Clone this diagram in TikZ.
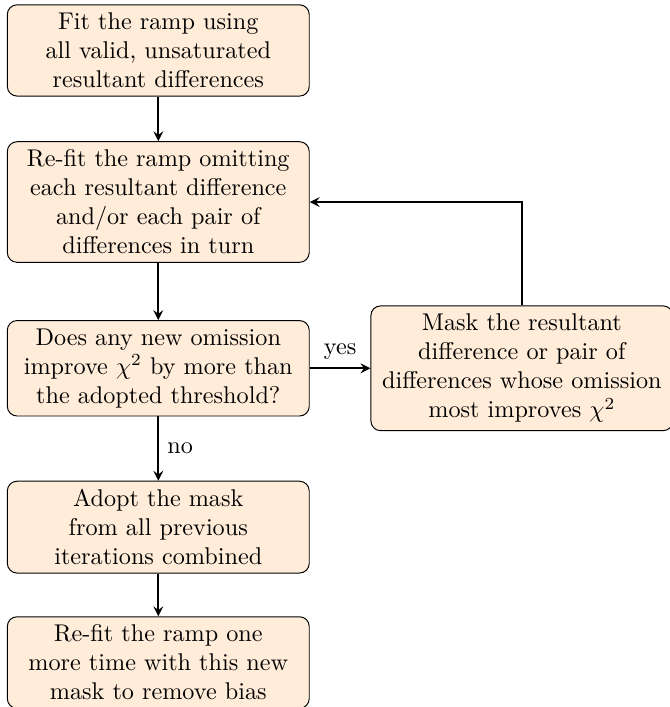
\documentclass[tikz,border=0pt]{standalone}
\usepackage{xcolor}

\begin{document}
\begin{tikzpicture}[x=0.75pt,y=0.75pt,yscale=-1,xscale=1,
  flowbox/.style={draw, rounded corners=4pt, fill={rgb, 255:red, 255; green, 236; blue, 217 }, fill opacity=1, text width=4.15cm, align=center, inner sep=3.33pt},
  flowarrow/.style={-stealth, thick}]
%set diagram left start at 0, and has height of 389.5
\useasboundingbox (0,0) rectangle (368.6,389.5);

%Shape: Rounded Rect [id:fit]
\draw (87.2,27.8) node [flowbox] (fit) {Fit the ramp using\\ all valid, unsaturated\\ resultant differences};
%Shape: Rounded Rect [id:refit]
\draw (87.2,111.3) node [flowbox] (refit) {Re-fit the ramp omitting\\ each resultant difference\\ and/or each pair of\\ differences in turn};
%Shape: Rounded Rect [id:test]
\draw (87.2,202.9) node [flowbox] (test) {Does any new omission\\ improve $\chi^2$ by more than\\ the adopted threshold?};
%Shape: Rounded Rect [id:mask]
\draw (287.5,202.9) node [flowbox] (mask) {Mask the resultant\\ difference or pair of\\ differences whose omission\\ most improves $\chi^2$};
%Shape: Rounded Rect [id:adopt]
\draw (87.2,290.4) node [flowbox] (adopt) {Adopt the mask\\ from all previous\\ iterations combined};
%Shape: Rounded Rect [id:final]
\draw (87.2,365) node [flowbox] (final) {Re-fit the ramp one\\ more time with this new\\ mask to remove bias};

%Straight Lines [id:arrows]
\draw [flowarrow] (fit) -- (refit);
\draw [flowarrow] (refit) -- (test);
\draw [flowarrow] (test) -- node [above] {yes} (mask);
\draw [flowarrow] (test) -- node [right] {no} (adopt);
\draw [flowarrow] (adopt) -- (final);
%Connector [id:loop]
\draw [flowarrow] (mask.north) |- (refit.east);

\end{tikzpicture}
\end{document}
